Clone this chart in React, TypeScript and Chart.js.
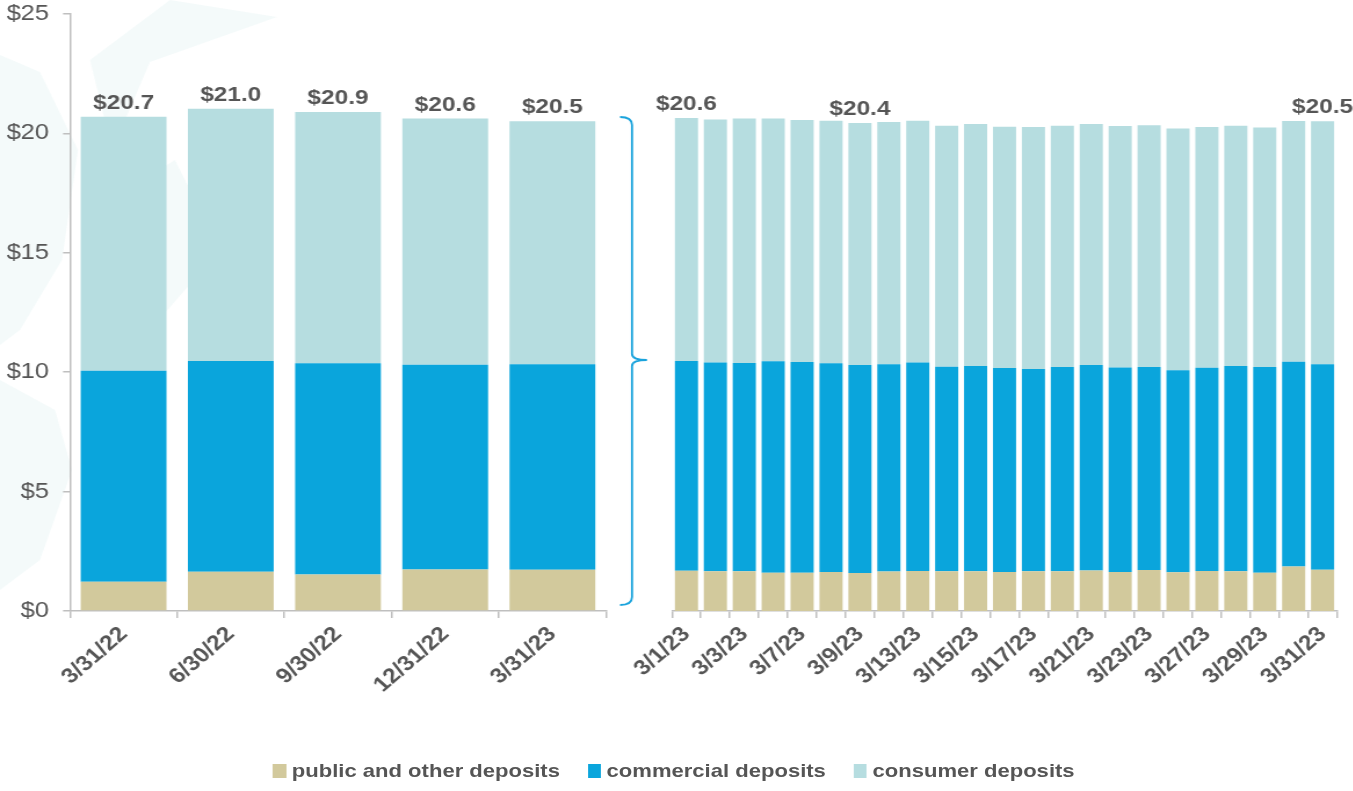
import React, { useEffect, useRef } from "react";
import { Chart, registerables } from "chart.js";

Chart.register(...registerables);

// ---------- data ----------
const quarterLabels = ["3/31/22", "6/30/22", "9/30/22", "12/31/22", "3/31/23"];
const quarterPublic = [1.22, 1.64, 1.53, 1.74, 1.73];
const quarterCommercial = [8.84, 8.83, 8.85, 8.57, 8.6];
const quarterConsumer = [10.64, 10.56, 10.52, 10.31, 10.18];

const dailyLabels = [
  "3/1/23", "3/2/23", "3/3/23", "3/6/23", "3/7/23", "3/8/23", "3/9/23", "3/10/23",
  "3/13/23", "3/14/23", "3/15/23", "3/16/23", "3/17/23", "3/20/23", "3/21/23", "3/22/23",
  "3/23/23", "3/24/23", "3/27/23", "3/28/23", "3/29/23", "3/30/23", "3/31/23",
];
const dailyPublic = [1.69, 1.66, 1.66, 1.6, 1.6, 1.63, 1.59, 1.65, 1.68, 1.66, 1.66, 1.63, 1.66, 1.66, 1.7, 1.63, 1.72, 1.62, 1.68, 1.66, 1.6, 1.86, 1.73];
const dailyCommercial = [8.78, 8.75, 8.73, 8.86, 8.83, 8.74, 8.71, 8.68, 8.73, 8.57, 8.6, 8.55, 8.47, 8.56, 8.6, 8.57, 8.5, 8.46, 8.51, 8.6, 8.62, 8.58, 8.6];
const dailyConsumer = [10.17, 10.17, 10.23, 10.16, 10.13, 10.16, 10.14, 10.15, 10.12, 10.09, 10.13, 10.1, 10.14, 10.1, 10.09, 10.11, 10.12, 10.13, 10.08, 10.06, 10.03, 10.08, 10.18];
const dailyLabelledIndices = [0, 6, 22];

const yTicks = [0, 5, 10, 15, 20, 25];

const seriesNames = ["public and other deposits", "commercial deposits", "consumer deposits"];
const seriesColors = ["#d2c99c", "#0aa5dc", "#b6dde0"];

// ---------- layout (natural px, page is stretched horizontally by K) ----------
const K = 1.16;
const NAT_W = 1353 / K;
const LEFT_W = 570;
const RIGHT_X = 500;
const RIGHT_W = Math.ceil(NAT_W - RIGHT_X);
const CANVAS_H = 740;
const TEXT = "#555555";
const AXIS = "#bfbfbf";
const FONT = "'Liberation Sans', Arial, sans-serif";

function totals(a: number[], b: number[], c: number[]) {
  return a.map((v, i) => v + b[i] + c[i]);
}

function makeLabelPlugin(tot: number[], shown: number[]) {
  return {
    id: "totLabels",
    afterDatasetsDraw(chart: any) {
      const ctx = chart.ctx;
      const meta = chart.getDatasetMeta(2);
      ctx.save();
      ctx.font = `bold 21px ${FONT}`;
      ctx.fillStyle = TEXT;
      ctx.textAlign = "center";
      ctx.textBaseline = "alphabetic";
      shown.forEach((i) => {
        const el = meta.data[i];
        if (!el) return;
        ctx.fillText("$" + tot[i].toFixed(1), el.x, el.y - 8);
      });
      ctx.restore();
    },
  };
}

const watermarkPlugin = {
  id: "watermark",
  beforeDraw(chart: any) {
    const ctx = chart.ctx;
    const polys: number[][][] = [
      [[170, 0], [277, 17], [150, 62], [112, 150], [90, 60]],
      [[0, 55], [40, 72], [78, 150], [62, 260], [20, 330], [0, 345]],
      [[0, 380], [55, 410], [72, 470], [40, 560], [0, 590]],
      [[110, 200], [175, 160], [220, 250], [150, 330]],
    ];
    ctx.save();
    ctx.fillStyle = "rgba(205, 232, 234, 0.22)";
    polys.forEach((p) => {
      ctx.beginPath();
      p.forEach(([x, y], j) => (j ? ctx.lineTo(x / K, y) : ctx.moveTo(x / K, y)));
      ctx.closePath();
      ctx.fill();
    });
    ctx.restore();
  },
};

const bracePlugin = {
  id: "brace",
  afterDraw(chart: any) {
    const ctx = chart.ctx;
    const x0 = 620 / K, x1 = 632 / K, xp = 647 / K;
    const top = 117, mid = 360, bot = 605;
    ctx.save();
    ctx.strokeStyle = "#1aa3dc";
    ctx.lineWidth = 1.8;
    ctx.beginPath();
    ctx.moveTo(x0, top);
    ctx.quadraticCurveTo(x1, top, x1, top + 8);
    ctx.lineTo(x1, mid - 6);
    ctx.quadraticCurveTo(x1, mid, xp, mid);
    ctx.quadraticCurveTo(x1, mid, x1, mid + 6);
    ctx.lineTo(x1, bot - 8);
    ctx.quadraticCurveTo(x1, bot, x0, bot);
    ctx.stroke();
    ctx.restore();
  },
};

function datasets(p: number[], c: number[], s: number[]) {
  return [p, c, s].map((d, i) => ({
    label: seriesNames[i],
    data: d,
    backgroundColor: seriesColors[i],
    borderWidth: 0,
    barPercentage: 0.8,
    categoryPercentage: 1,
  }));
}

function xScale(cb?: (v: any, i: number) => string) {
  return {
    stacked: true,
    grid: {
      display: true,
      drawOnChartArea: false,
      drawTicks: true,
      tickLength: 7,
      color: AXIS,
      lineWidth: 1.5,
      offset: true,
    },
    border: { display: true, color: AXIS, width: 1.5 },
    ticks: {
      autoSkip: false,
      maxRotation: 45,
      minRotation: 45,
      padding: 4,
      color: TEXT,
      font: { family: FONT, size: 21, weight: "bold" },
      ...(cb ? { callback: cb } : {}),
    },
    afterFit: (axis: any) => {
      axis.height = CANVAS_H - 611;
      axis.paddingLeft = 0;
      axis.paddingRight = 0;
    },
  };
}

export default function App() {
  const leftRef = useRef<HTMLCanvasElement>(null);
  const rightRef = useRef<HTMLCanvasElement>(null);

  useEffect(() => {
    const qTot = totals(quarterPublic, quarterCommercial, quarterConsumer);
    const dTot = totals(dailyPublic, dailyCommercial, dailyConsumer);

    const left = new Chart(leftRef.current as HTMLCanvasElement, {
      type: "bar",
      data: { labels: quarterLabels, datasets: datasets(quarterPublic, quarterCommercial, quarterConsumer) as any },
      options: {
        animation: false,
        responsive: false,
        devicePixelRatio: 1,
        layout: { padding: { top: 14, right: LEFT_W - 606 / K, left: 0, bottom: 0 } },
        plugins: { legend: { display: false }, tooltip: { enabled: false } },
        scales: {
          x: xScale() as any,
          y: {
            stacked: true,
            min: 0,
            max: 25,
            afterBuildTicks: (axis: any) => {
              axis.ticks = yTicks.map((v) => ({ value: v }));
            },
            ticks: {
              callback: (v: any) => "$" + v,
              padding: 12,
              color: TEXT,
              font: { family: FONT, size: 22 },
            },
            grid: { drawOnChartArea: false, drawTicks: true, tickLength: 6, color: AXIS, lineWidth: 1.5 },
            border: { display: true, color: AXIS, width: 1.5 },
            afterFit: (axis: any) => {
              axis.width = 70 / K;
              axis.paddingTop = 0;
              axis.paddingBottom = 0;
            },
          } as any,
        },
      },
      plugins: [watermarkPlugin, makeLabelPlugin(qTot, quarterLabels.map((_, i) => i)), bracePlugin],
    });

    const right = new Chart(rightRef.current as HTMLCanvasElement, {
      type: "bar",
      data: { labels: dailyLabels, datasets: datasets(dailyPublic, dailyCommercial, dailyConsumer) as any },
      options: {
        animation: false,
        responsive: false,
        devicePixelRatio: 1,
        layout: {
          padding: { top: 14, left: 672 / K - RIGHT_X, right: RIGHT_W - (1337 / K - RIGHT_X), bottom: 0 },
        },
        plugins: { legend: { display: false }, tooltip: { enabled: false } },
        scales: {
          x: xScale((_v: any, i: number) => (i % 2 === 0 ? dailyLabels[i] : "")) as any,
          y: { stacked: true, min: 0, max: 25, display: false } as any,
        },
      },
      plugins: [makeLabelPlugin(dTot, dailyLabelledIndices)],
    });

    return () => {
      left.destroy();
      right.destroy();
    };
  }, []);

  return (
    <div style={{ position: "absolute", left: 0, top: 0, width: 1353, height: 791, overflow: "hidden", background: "#fff" }}>
      <div
        style={{
          position: "absolute",
          left: 0,
          top: 0,
          width: NAT_W,
          height: 791,
          transform: `scaleX(${K})`,
          transformOrigin: "0 0",
        }}
      >
        <canvas ref={leftRef} width={LEFT_W} height={CANVAS_H} style={{ position: "absolute", left: 0, top: 0 }} />
        <canvas ref={rightRef} width={RIGHT_W} height={CANVAS_H} style={{ position: "absolute", left: RIGHT_X, top: 0 }} />
        <div
          style={{
            position: "absolute",
            left: 273 / K,
            top: 760,
            display: "flex",
            alignItems: "center",
            fontFamily: FONT,
            fontWeight: "bold",
            fontSize: 19,
            color: TEXT,
            whiteSpace: "nowrap",
          }}
        >
          {seriesNames.map((n, i) => (
            <div key={n} style={{ display: "flex", alignItems: "center", marginRight: i < 2 ? 24 : 0 }}>
              <span style={{ display: "inline-block", width: 13 / K, height: 14, background: seriesColors[i], marginRight: 5 }} />
              <span>{n}</span>
            </div>
          ))}
        </div>
      </div>
    </div>
  );
}
